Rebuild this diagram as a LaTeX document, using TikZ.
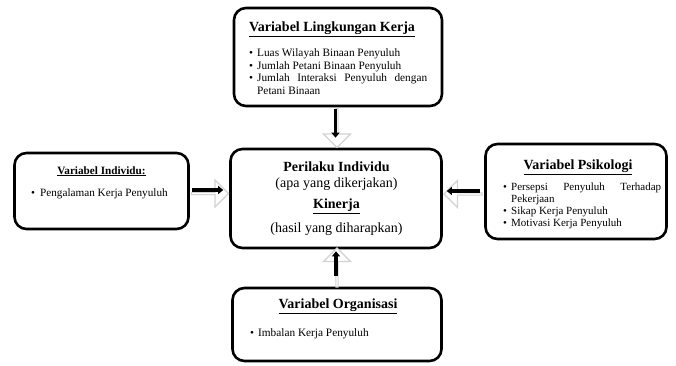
\documentclass[tikz,border=0pt]{standalone}
\usepackage{fontspec}
\setmainfont{Liberation Serif}
\usetikzlibrary{arrows.meta,positioning,shapes.arrows}
\tikzset{kotak/.style={draw,rounded corners=12pt,line width=2.6pt,inner sep=0pt}}
\tikzset{judul/.style={anchor=base,font=\fontsize{14}{16}\selectfont\bfseries}}
\tikzset{isi/.style={anchor=base west,inner sep=0pt,font=\fontsize{11.3}{13}\selectfont}}
\tikzset{blok/.style={single arrow,draw=gray!35,fill=white,line width=1.2pt,
    minimum width=27pt,single arrow head extend=6.5pt,inner sep=0pt}}
\tikzset{hitam/.style={line width=3.6pt,-{Triangle[length=5pt,width=8pt]}}}
\newcommand{\butir}[1]{\makebox[8pt][l]{\textbullet}#1}

\begin{document}
\begin{tikzpicture}[x=1pt,y=-1pt]
    \useasboundingbox (0,0) rectangle (676,365);
    % kotak-kotak
    \node[kotak,minimum width=208pt,minimum height=98pt] (lingkungan) at (338,57) {};
    \node[kotak,minimum width=174pt,minimum height=76pt] (individu) at (101.5,191) {};
    \node[kotak,minimum width=211pt,minimum height=99pt] (pusat) at (336,198.5) {};
    \node[kotak,minimum width=181pt,minimum height=95pt] (psikologi) at (576,191.5) {};
    \node[kotak,minimum width=209pt,minimum height=73pt] (organisasi) at (337,324.5) {};

    % panah blok
    \path (lingkungan.south) -- (pusat.north)
        node[midway,blok,minimum height=39pt,rotate=-90] (panah1) {};
    \path (individu.east) -- (individu.east -| pusat.west)
        node[midway,blok,minimum height=37pt,yshift=-2.5pt] (panah2) {};
    \path (psikologi.west) -- (psikologi.west -| pusat.east)
        node[midway,blok,minimum height=38pt,yshift=-2.5pt,rotate=180] (panah3) {};
    \path (organisasi.north) -- (organisasi.north |- pusat.south)
        node[midway,blok,minimum height=39pt,rotate=90] (panah4) {};
    \draw[hitam,shorten <=2pt,shorten >=10pt]
        ([xshift=-2.5pt]lingkungan.south) -- ([xshift=-2.5pt]lingkungan.south |- pusat.north);
    \draw[hitam,shorten <=2pt,shorten >=6pt]
        ([yshift=1pt]individu.east) -- ([yshift=1pt]individu.east -| pusat.west);
    \draw[hitam,shorten <=4pt,shorten >=4pt]
        ([yshift=0.5pt]psikologi.west) -- ([yshift=0.5pt]psikologi.west -| pusat.east);
    \draw[hitam,shorten <=11pt,shorten >=2pt]
        ([xshift=-1pt]organisasi.north) -- ([xshift=-1pt]organisasi.north |- pusat.south);

    % lingkungan kerja
    \node[judul] (lingkungan-judul) at (332,31.5) {\underline{Variabel Lingkungan Kerja}};
    \node[isi] (lingkungan-1) at (249,56.5) {\butir{Luas Wilayah Binaan Penyuluh}};
    \node[isi] (lingkungan-2) at (249,69) {\butir{Jumlah Petani Binaan Penyuluh}};
    \node[isi] (lingkungan-3) at (249,81.5) {\butir{\makebox[170pt][s]{Jumlah Interaksi Penyuluh dengan}}};
    \node[isi] (lingkungan-4) at (257,94) {Petani Binaan};

    % individu
    \node[judul,font=\fontsize{11.2}{13}\selectfont\bfseries] (individu-judul) at (101.5,174) {\underline{Variabel Individu:}};
    \node[isi,font=\fontsize{11.2}{13}\selectfont] (individu-1) at (31,196) {\makebox[9pt][l]{\textbullet}Pengalaman Kerja Penyuluh};

    % pusat
    \node[judul] (pusat-1) at (336.5,171) {Perilaku Individu};
    \node[judul,font=\fontsize{14}{16}\selectfont] (pusat-2) at (336.5,187) {(apa yang dikerjakan)};
    \node[judul] (pusat-3) at (336.5,208.5) {\underline{Kinerja}};
    \node[judul,font=\fontsize{14}{16}\selectfont] (pusat-4) at (336.5,232) {(hasil yang diharapkan)};

    % psikologi
    \node[judul] (psikologi-judul) at (578,169.5) {\underline{Variabel Psikologi}};
    \node[isi,font=\fontsize{11}{13}\selectfont] (psikologi-1) at (503,190) {\butir{\makebox[150pt][s]{Persepsi Penyuluh Terhadap}}};
    \node[isi,font=\fontsize{11}{13}\selectfont] (psikologi-2) at (511,202) {Pekerjaan};
    \node[isi,font=\fontsize{11}{13}\selectfont] (psikologi-3) at (503,214) {\butir{Sikap Kerja Penyuluh}};
    \node[isi,font=\fontsize{11}{13}\selectfont] (psikologi-4) at (503,226) {\butir{Motivasi Kerja Penyuluh}};

    % organisasi
    \node[judul] (organisasi-judul) at (338,308.5) {\underline{Variabel Organisasi}};
    \node[isi] (organisasi-1) at (250,336) {\butir{Imbalan Kerja Penyuluh}};
\end{tikzpicture}
\end{document}
